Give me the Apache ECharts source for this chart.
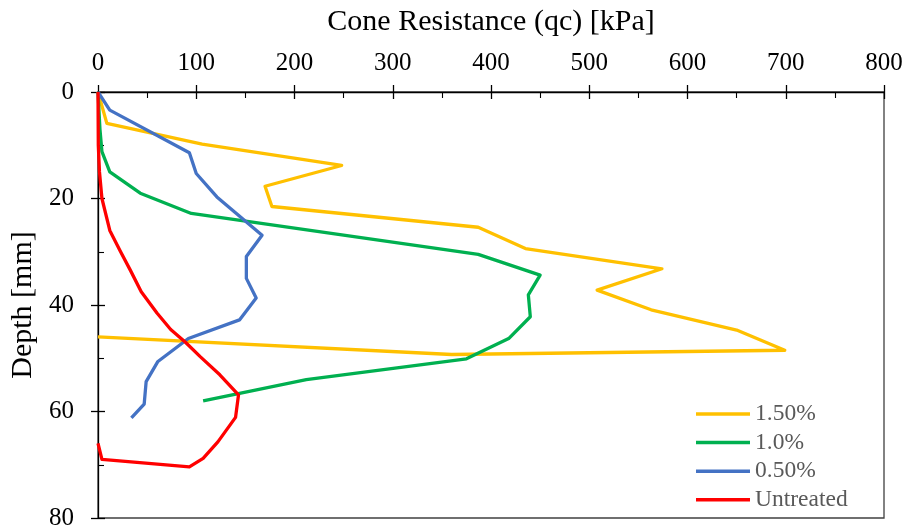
<!DOCTYPE html>
<html>
<head>
<meta charset="utf-8">
<script src="https://cdn.jsdelivr.net/npm/echarts@6/dist/echarts.min.js"></script>
<style>
  html, body { margin: 0; padding: 0; background: #fff; }
  #chart { width: 909px; height: 529px; }
</style>
</head>
<body>
<div id="chart"></div>
<script>
// Cone resistance profiles: each point is [qc (kPa), depth (mm)]
const seriesNames = ['1.50%', '1.0%', '0.50%', 'Untreated'];
const seriesColors = ['#FFC000', '#00B050', '#4472C4', '#FF0000'];

const qc150 = [[0, 0], [9, 5.9], [106, 9.8], [248, 13.8], [170, 17.7], [177, 21.5],
  [387, 25.4], [435, 29.4], [574, 33.2], [508, 37.2], [563, 40.9], [650, 44.7],
  [699, 48.5], [360, 49.3], [0, 46.0]];

const qc100 = [[0, 0], [2, 7], [4, 11.2], [12, 15], [43, 19], [95, 22.8],
  [387, 30.5], [450, 34.4], [438, 38.1], [440, 42.2], [418, 46.3], [375, 50.1],
  [212, 54.0], [107, 58.0]];

const qc050 = [[0, 0], [12, 3.4], [93, 11.4], [100, 15.3], [121, 19.7], [167, 26.9],
  [151, 30.9], [151, 35.0], [161, 38.7], [144, 42.8], [92, 46.3], [61, 50.6],
  [49, 54.4], [47, 58.6], [34, 61.2]];

const qcUntreated = [[0, 0], [0.3, 10], [1.5, 15], [4, 20], [12, 26], [23, 30],
  [33, 33.5], [44, 37.5], [60, 41.5], [74, 44.6], [89, 47], [104, 49.7],
  [124, 53.1], [143, 56.9], [140, 61.1], [122, 65.7], [107, 68.8], [93, 70.4],
  [4, 69], [0, 66]];

const seriesData = [qc150, qc100, qc050, qcUntreated];

const xTicks = { min: 0, max: 800, interval: 100 };
const yTicks = { min: 0, max: 80, interval: 20 };

const FONT = '"Liberation Serif", "Times New Roman", serif';

const chart = echarts.init(document.getElementById('chart'), null, { renderer: 'canvas' });

const axisCommon = {
  type: 'value',
  splitLine: { show: false }
};

chart.setOption({
  animation: false,
  backgroundColor: '#ffffff',
  grid: {
    left: 98, top: 92, right: 25, bottom: 11,
    outerBoundsMode: 'none',
    containLabel: false,
    show: true, borderColor: '#404040', borderWidth: 1.3, backgroundColor: 'transparent'
  },
  xAxis: [
    Object.assign({}, axisCommon, {
      position: 'top',
      min: xTicks.min, max: xTicks.max, interval: xTicks.interval,
      name: 'Cone Resistance (qc) [kPa]',
      nameLocation: 'middle',
      nameGap: 55,
      nameTextStyle: { fontFamily: FONT, fontSize: 30, color: '#000' },
      axisLine: { show: true, lineStyle: { color: '#000', width: 1.3 } },
      axisTick: { show: true, inside: false, length: 7, lineStyle: { color: '#000', width: 1.3 } },
      axisLabel: { fontFamily: FONT, fontSize: 25, color: '#000', margin: 16 }
    }),
    Object.assign({}, axisCommon, {
      position: 'top',
      min: xTicks.min, max: xTicks.max, interval: xTicks.interval,
      axisLine: { show: false },
      axisLabel: { show: false },
      axisTick: { show: true, inside: true, length: 7, lineStyle: { color: '#000', width: 1.3 } },
      minorTick: { show: true, splitNumber: 2, length: 6, lineStyle: { color: '#000', width: 1.1 } }
    })
  ],
  yAxis: [
    Object.assign({}, axisCommon, {
      inverse: true,
      min: yTicks.min, max: yTicks.max, interval: yTicks.interval,
      name: 'Depth [mm]',
      nameLocation: 'middle',
      nameGap: 58,
      nameRotate: 90,
      nameTextStyle: { fontFamily: FONT, fontSize: 30, color: '#000' },
      axisLine: { show: true, lineStyle: { color: '#000', width: 1.3 } },
      axisTick: { show: true, inside: false, length: 7, lineStyle: { color: '#000', width: 1.3 } },
      axisLabel: { fontFamily: FONT, fontSize: 25, color: '#000', margin: 24 }
    }),
    Object.assign({}, axisCommon, {
      inverse: true,
      position: 'left',
      min: yTicks.min, max: yTicks.max, interval: yTicks.interval,
      axisLine: { show: false },
      axisLabel: { show: false },
      axisTick: { show: true, inside: true, length: 7, lineStyle: { color: '#000', width: 1.3 } },
      minorTick: { show: true, splitNumber: 2, length: 6, lineStyle: { color: '#000', width: 1.1 } }
    })
  ],
  legend: {
    orient: 'vertical',
    left: 691,
    top: 397,
    icon: 'rect',
    itemWidth: 54,
    itemHeight: 3.5,
    itemGap: 4.6,
    textStyle: { fontFamily: FONT, fontSize: 23.5, color: '#595959', lineHeight: 24 },
    data: seriesNames
  },
  series: seriesNames.map((name, i) => ({
    name: name,
    type: 'line',
    xAxisIndex: 0,
    yAxisIndex: 0,
    data: seriesData[i],
    showSymbol: false,
    symbol: 'none',
    color: seriesColors[i],
    lineStyle: { color: seriesColors[i], width: 3.3, join: 'round' },
    z: 2 + i
  }))
});
</script>
</body>
</html>
